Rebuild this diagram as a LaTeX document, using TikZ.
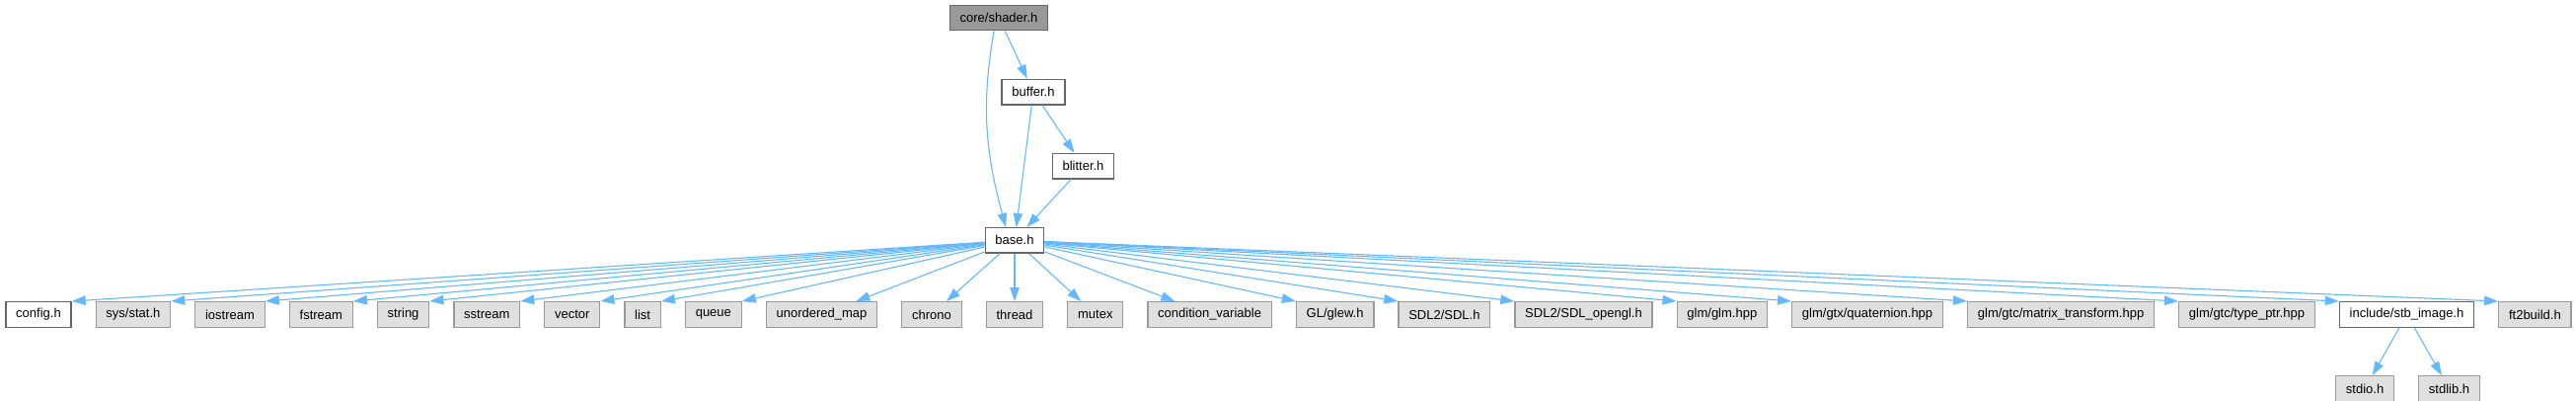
\documentclass[tikz,border=0pt]{standalone}
\usepackage{fontspec}
\setmainfont{Liberation Sans}
\usetikzlibrary{positioning, arrows.meta, calc}
\definecolor{EdgeA}{HTML}{63B8FF}
\definecolor{GrayA}{HTML}{999999}
\definecolor{GrayB}{HTML}{E0E0E0}
\definecolor{GrayC}{HTML}{666666}
\tikzset{
  box/.style={draw, line width=1.3pt, font=\fontsize{13}{15}\selectfont, minimum height=25.5pt, inner xsep=10.3pt, inner ysep=0pt},
  root/.style={fill=GrayA, draw=GrayC},
  loc/.style={fill=white, draw=GrayC},
  sys/.style={fill=GrayB, draw=GrayA},
  arr/.style={-{Triangle[length=14pt,width=9.5pt]}, line width=1.1pt, EdgeA}
}
\begin{document}
\begin{tikzpicture}[node distance=48.3pt and 23.8pt]
  \useasboundingbox (0,0) rectangle (2610pt,-405pt);
  \node[box,root] (shader) at (1012pt,-18pt) {core/shader.h};
  \node[box,loc,below=of shader,xshift=35pt] (buffer) {buffer.h};
  \node[box,loc,below=of buffer,xshift=50.5pt] (blitter) {blitter.h};
  \node[box,loc,below=of blitter,xshift=-69.5pt] (base) {base.h};

  \node[box,sys,below=of base] (thread) {thread};
  \node[box,sys,left=of thread] (chrono) {chrono};
  \node[box,sys,left=of chrono] (umap) {unordered\_map};
  \node[box,sys,left=of umap] (que) {queue};
  \node[box,sys,left=of que] (lst) {list};
  \node[box,sys,left=of lst] (vec) {vector};
  \node[box,sys,left=of vec] (sst) {sstream};
  \node[box,sys,left=of sst] (str) {string};
  \node[box,sys,left=of str] (fst) {fstream};
  \node[box,sys,left=of fst] (ios) {iostream};
  \node[box,sys,left=of ios] (stat) {sys/stat.h};
  \node[box,loc,left=of stat] (cfg) {config.h};
  \node[box,sys,right=of thread] (mutex) {mutex};
  \node[box,sys,right=of mutex] (cvar) {condition\_variable};
  \node[box,sys,right=of cvar] (glew) {GL/glew.h};
  \node[box,sys,right=of glew] (sdl) {SDL2/SDL.h};
  \node[box,sys,right=of sdl] (sdlgl) {SDL2/SDL\_opengl.h};
  \node[box,sys,right=of sdlgl] (glm) {glm/glm.hpp};
  \node[box,sys,right=of glm] (quat) {glm/gtx/quaternion.hpp};
  \node[box,sys,right=of quat] (mtx) {glm/gtc/matrix\_transform.hpp};
  \node[box,sys,right=of mtx] (tptr) {glm/gtc/type\_ptr.hpp};
  \node[box,loc,right=of tptr] (stb) {include/stb\_image.h};
  \node[box,sys,right=of stb] (ft) {ft2build.h};
  \node[box,sys,below=of stb,xshift=-42.4pt] (stdio) {stdio.h};
  \node[box,sys,right=of stdio] (stdlib) {stdlib.h};

  \draw[arr] (shader.250) to[out=-100,in=105] ($(base.north)+(-9pt,0)$);
  \draw[arr] (shader) -- (buffer);
  \draw[arr] (buffer) -- (base);
  \draw[arr] (buffer) -- (blitter);
  \draw[arr] (blitter) -- (base);
  \draw[arr] (base) -- (cfg.north east);
  \draw[arr] (base) -- (stat.north east);
  \draw[arr] (base) -- (ios.north east);
  \draw[arr] (base) -- (fst.north east);
  \draw[arr] (base) -- (str.north east);
  \draw[arr] (base) -- (sst.north east);
  \draw[arr] (base) -- (vec.north east);
  \draw[arr] (base) -- (lst.north east);
  \draw[arr] (base) -- (que.north east);
  \draw[arr] (base) -- (umap);
  \draw[arr] (base) -- (chrono);
  \draw[arr] (base) -- (thread);
  \draw[arr] (base) -- (mutex);
  \draw[arr] (base) -- (cvar);
  \draw[arr] (base) -- (glew.north west);
  \draw[arr] (base) -- (sdl.north west);
  \draw[arr] (base) -- (sdlgl.north west);
  \draw[arr] (base) -- (glm.north west);
  \draw[arr] (base) -- (quat.north west);
  \draw[arr] (base) -- (mtx.north west);
  \draw[arr] (base) -- (tptr.north west);
  \draw[arr] (base) -- (stb.north west);
  \draw[arr] (base) -- (ft.north west);
  \draw[arr] (stb) -- (stdio);
  \draw[arr] (stb) -- (stdlib);
\end{tikzpicture}
\end{document}
